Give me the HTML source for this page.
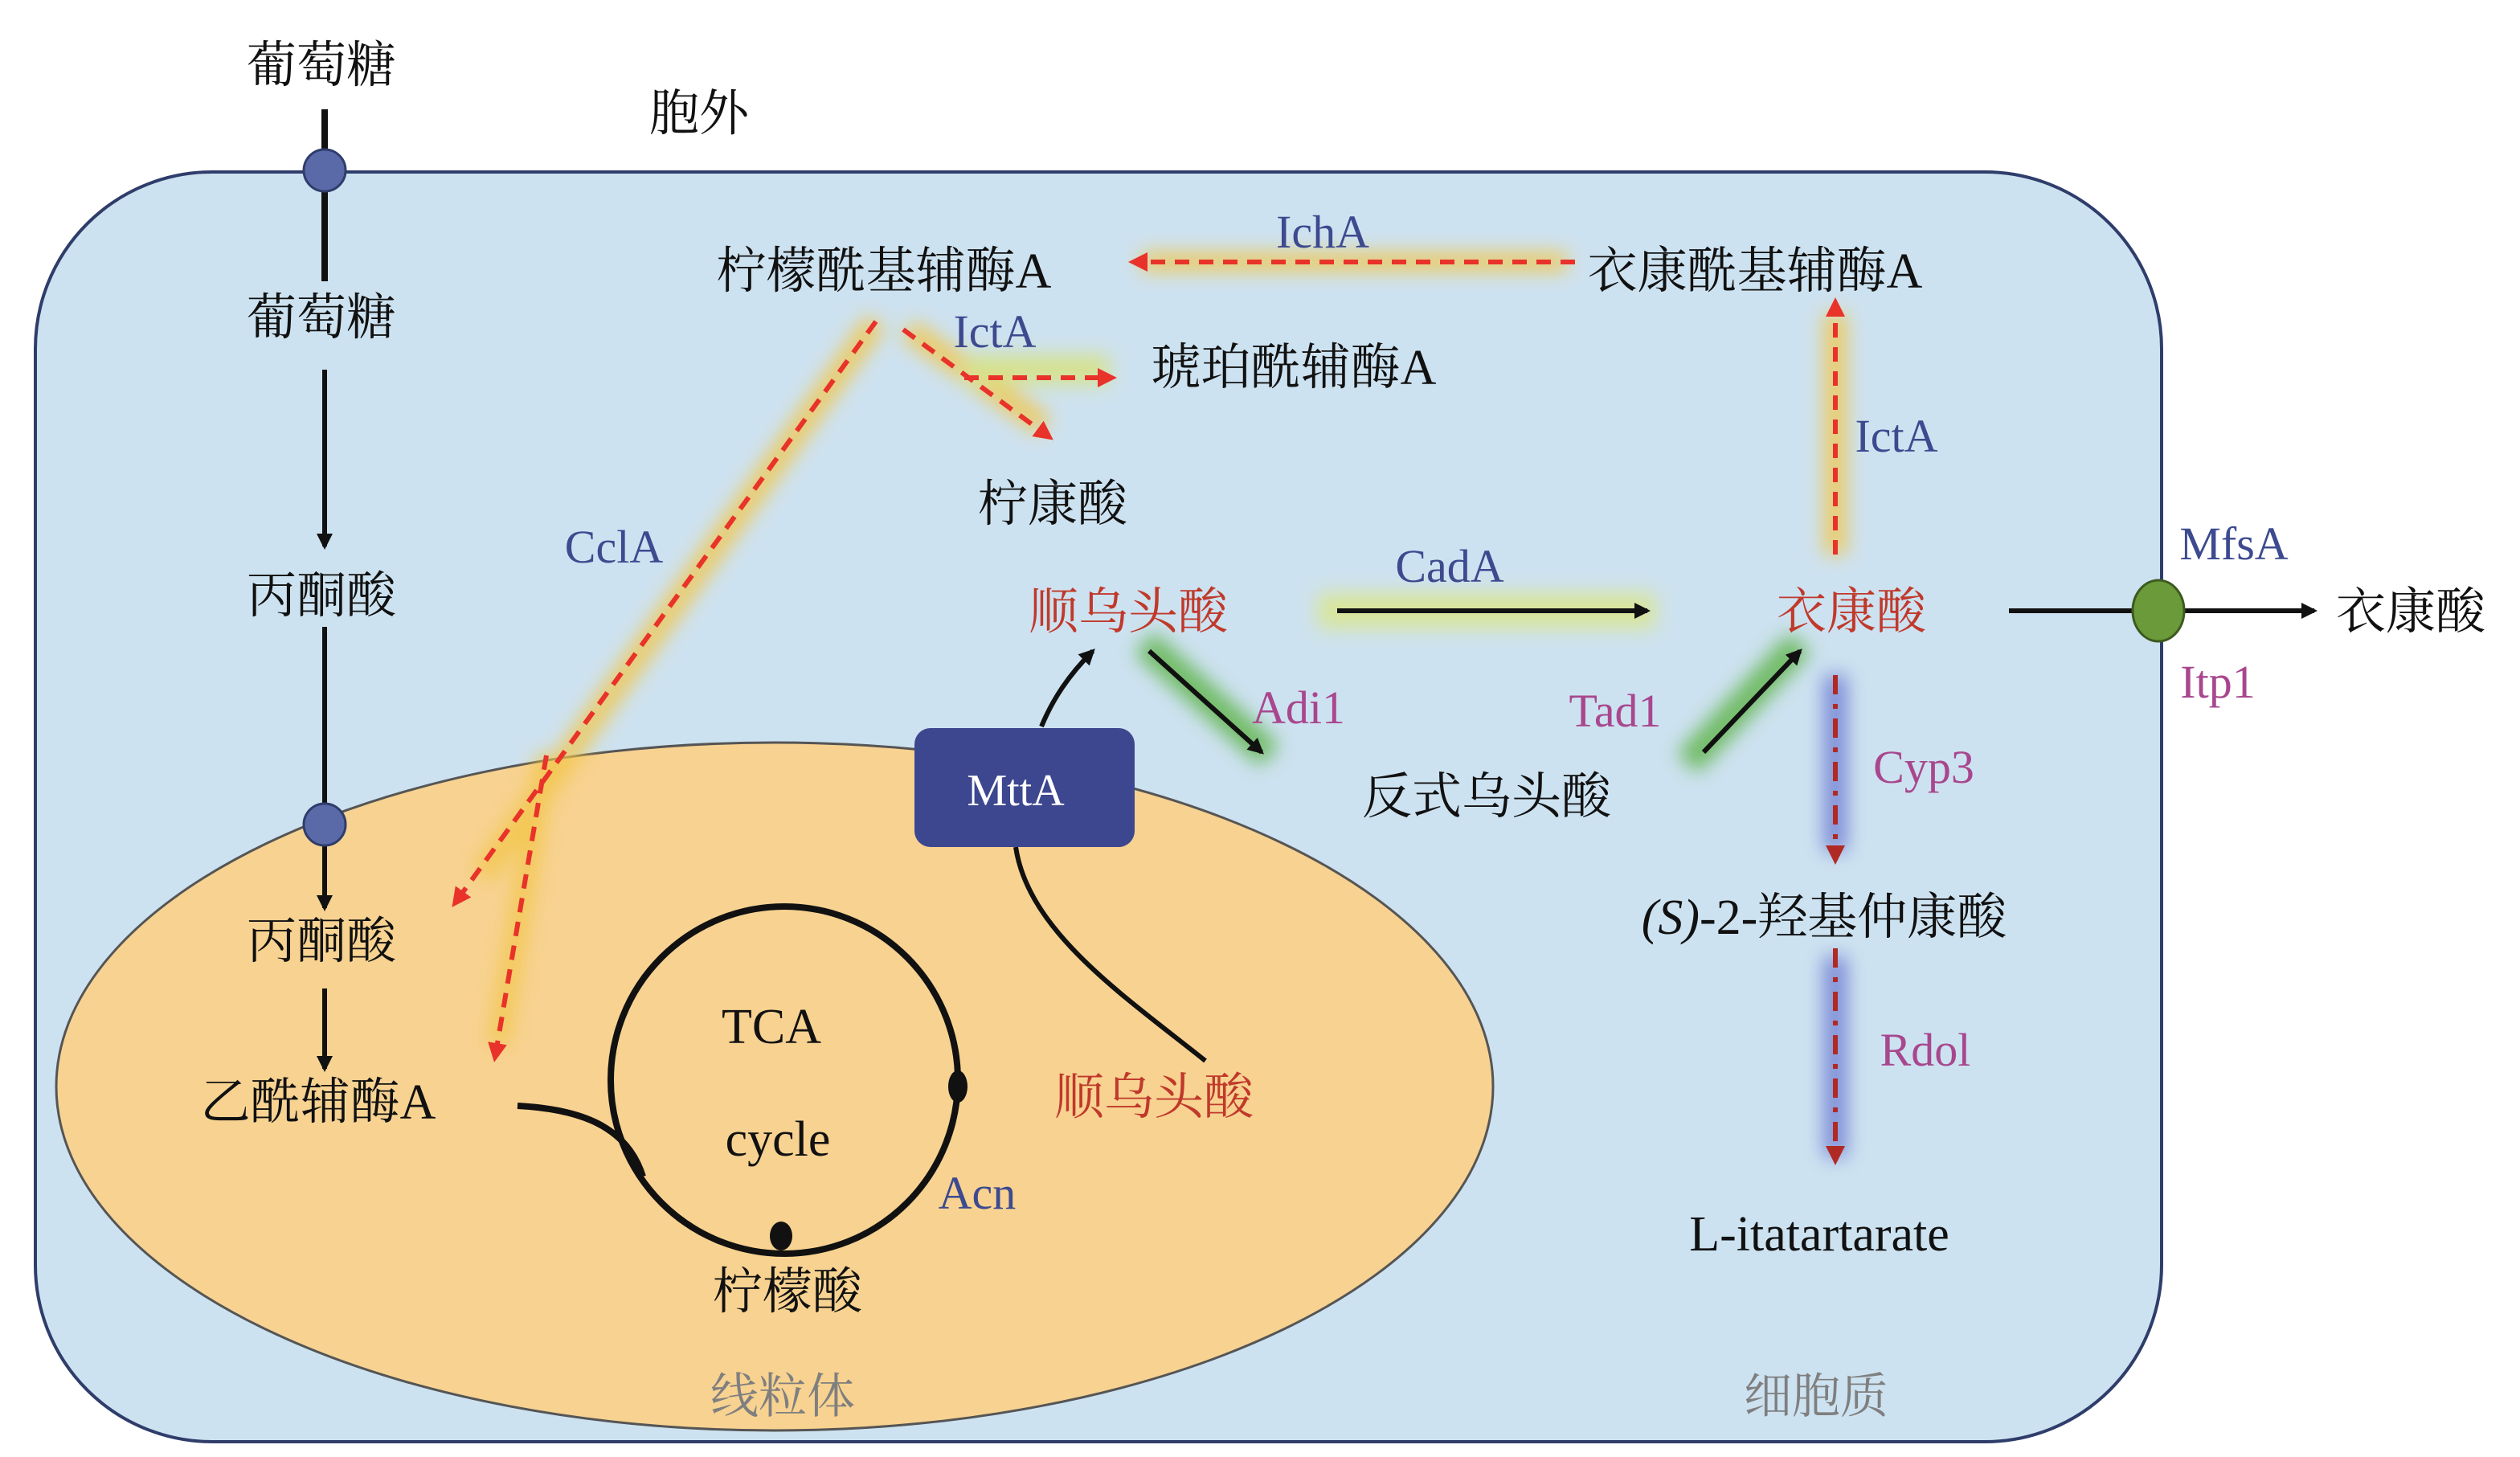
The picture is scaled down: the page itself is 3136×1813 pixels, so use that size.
<!DOCTYPE html>
<html><head><meta charset="utf-8">
<style>
html,body{margin:0;padding:0;background:#fff;}
svg{display:block;}
text{font-family:"Liberation Serif","Noto Serif CJK SC","Noto Sans CJK SC",serif;}
</style></head>
<body>
<svg width="3136" height="1813" viewBox="0 0 1568 906.5" xmlns="http://www.w3.org/2000/svg">
<defs>
<filter id="bl" x="-50%" y="-50%" width="200%" height="200%"><feGaussianBlur stdDeviation="6"/></filter>
<marker id="ak" markerWidth="10" markerHeight="10" refX="8" refY="5" orient="auto" markerUnits="userSpaceOnUse"><path d="M0,0 L10,5 L0,10 z" fill="#111"/></marker>
<marker id="ar" markerWidth="12" markerHeight="12" refX="9" refY="6" orient="auto" markerUnits="userSpaceOnUse"><path d="M0,0 L12,6 L0,12 z" fill="#e8322a"/></marker>
<marker id="ad" markerWidth="12" markerHeight="12" refX="9" refY="6" orient="auto" markerUnits="userSpaceOnUse"><path d="M0,0 L12,6 L0,12 z" fill="#b02a25"/></marker>
</defs>
<rect width="1568" height="906.5" fill="#fff"/>
<rect x="22" y="107" width="1323" height="790" rx="110" fill="#cde2f0" stroke="#2f3d6b" stroke-width="2"/>
<ellipse cx="482" cy="676" rx="447" ry="214" fill="#f7d291" stroke="#555" stroke-width="1.5"/>

<!-- glows -->
<g filter="url(#bl)" opacity="0.85">
<line x1="545" y1="200" x2="300" y2="545" stroke="#f2c64a" stroke-width="14"/>
<line x1="340" y1="470" x2="310" y2="650" stroke="#f2c64a" stroke-width="12"/>
<line x1="565" y1="205" x2="650" y2="265" stroke="#f2c64a" stroke-width="14"/>
<line x1="600" y1="230" x2="690" y2="230" stroke="#d8e27a" stroke-width="18"/>
<line x1="975" y1="163" x2="710" y2="163" stroke="#f2c64a" stroke-width="12"/>
<line x1="1142" y1="345" x2="1142" y2="195" stroke="#f2c64a" stroke-width="14"/>
<line x1="820" y1="380" x2="1030" y2="380" stroke="#dbe68a" stroke-width="22"/>
<line x1="712" y1="400" x2="790" y2="470" stroke="#5fb34a" stroke-width="18"/>
<line x1="1050" y1="475" x2="1120" y2="400" stroke="#5fb34a" stroke-width="18"/>
<line x1="1142" y1="420" x2="1142" y2="530" stroke="#6a78d0" stroke-width="14"/>
<line x1="1142" y1="595" x2="1142" y2="720" stroke="#6a78d0" stroke-width="14"/>
</g>

<!-- left column -->
<line x1="202" y1="68" x2="202" y2="175" stroke="#111" stroke-width="4"/>
<circle cx="202" cy="106" r="13" fill="#5a6aa8" stroke="#2f3d6b" stroke-width="1.5"/>
<line x1="202" y1="230" x2="202" y2="340" stroke="#111" stroke-width="3" marker-end="url(#ak)"/>
<line x1="202" y1="390" x2="202" y2="565" stroke="#111" stroke-width="3" marker-end="url(#ak)"/>
<circle cx="202" cy="513" r="13" fill="#5a6aa8" stroke="#2f3d6b" stroke-width="1.5"/>
<line x1="202" y1="615" x2="202" y2="665" stroke="#111" stroke-width="3" marker-end="url(#ak)"/>

<g font-size="31" fill="#111" text-anchor="middle">
<text x="200" y="51">葡萄糖</text>
<text x="435" y="81">胞外</text>
<text x="200" y="208">葡萄糖</text>
<text x="200" y="381">丙酮酸</text>
<text x="200" y="596">丙酮酸</text>
<text x="198" y="696">乙酰辅酶A</text>
<text x="550" y="179">柠檬酰基辅酶A</text>
<text x="1092" y="179">衣康酰基辅酶A</text>
<text x="805" y="239">琥珀酰辅酶A</text>
<text x="655" y="324">柠康酸</text>
<text x="925" y="506">反式乌头酸</text>
<text x="490" y="814">柠檬酸</text>
<text x="1500" y="391">衣康酸</text>
<text x="1135" y="581"><tspan font-style="italic">(S)</tspan>-2-羟基仲康酸</text>
<text x="1132" y="778">L-itatartarate</text>
<text x="480" y="649">TCA</text>
<text x="484" y="719">cycle</text>
</g>
<g font-size="31" fill="#c0392b" text-anchor="middle">
<text x="702" y="391">顺乌头酸</text>
<text x="718" y="693">顺乌头酸</text>
<text x="1152" y="391">衣康酸</text>
</g>
<g font-size="30" fill="#7f7f7f" text-anchor="middle">
<text x="487" y="879">线粒体</text>
<text x="1130" y="879">细胞质</text>
</g>
<g font-size="29" fill="#3d4a8f" text-anchor="middle">
<text x="823" y="154">IchA</text>
<text x="619" y="216">IctA</text>
<text x="1180" y="281">IctA</text>
<text x="382" y="350">CclA</text>
<text x="902" y="362">CadA</text>
<text x="1390" y="348">MfsA</text>
<text x="608" y="752">Acn</text>
</g>
<g font-size="29" fill="#a8478e" text-anchor="middle">
<text x="808" y="450">Adi1</text>
<text x="1005" y="452">Tad1</text>
<text x="1380" y="434">Itp1</text>
<text x="1197" y="487">Cyp3</text>
<text x="1198" y="663">Rdol</text>
</g>

<!-- TCA -->
<circle cx="488" cy="672" r="108" fill="none" stroke="#111" stroke-width="4"/>
<ellipse cx="596" cy="676" rx="6" ry="10" fill="#111"/>
<ellipse cx="486" cy="769" rx="7" ry="9" fill="#111"/>
<path d="M322,688 C360,690 390,700 400,732" fill="none" stroke="#111" stroke-width="4"/>

<!-- MttA -->
<path d="M648,452 C655,435 665,420 680,405" fill="none" stroke="#111" stroke-width="3" marker-end="url(#ak)"/>
<path d="M632,527 C640,580 700,620 750,660" fill="none" stroke="#111" stroke-width="3"/>
<rect x="569" y="453" width="137" height="74" rx="10" fill="#3d478f"/>
<text x="632" y="501" font-size="28" fill="#fff" text-anchor="middle">MttA</text>

<!-- black arrows -->
<line x1="832" y1="380" x2="1025" y2="380" stroke="#111" stroke-width="3" marker-end="url(#ak)"/>
<line x1="715" y1="405" x2="785" y2="468" stroke="#111" stroke-width="3" marker-end="url(#ak)"/>
<line x1="1060" y1="468" x2="1120" y2="405" stroke="#111" stroke-width="3" marker-end="url(#ak)"/>
<line x1="1250" y1="380" x2="1440" y2="380" stroke="#111" stroke-width="3" marker-end="url(#ak)"/>
<ellipse cx="1343" cy="380" rx="16" ry="19" fill="#6a9a3a" stroke="#3d5a20" stroke-width="1.5"/>

<!-- red dashed -->
<g stroke="#e8322a" stroke-width="3" stroke-dasharray="9,6" fill="none">
<line x1="980" y1="163" x2="705" y2="163" marker-end="url(#ar)"/>
<line x1="600" y1="235" x2="692" y2="235" marker-end="url(#ar)"/>
<line x1="562" y1="205" x2="653" y2="272" marker-end="url(#ar)"/>
<line x1="545" y1="200" x2="283" y2="562" marker-end="url(#ar)"/>
<line x1="340" y1="470" x2="308" y2="658" marker-end="url(#ar)"/>
<line x1="1142" y1="345" x2="1142" y2="188" marker-end="url(#ar)"/>
</g>
<g stroke="#b02a25" stroke-width="3" stroke-dasharray="12,6,3,6" fill="none">
<line x1="1142" y1="420" x2="1142" y2="535" marker-end="url(#ad)"/>
<line x1="1142" y1="590" x2="1142" y2="722" marker-end="url(#ad)"/>
</g>
</svg>
</body></html>
